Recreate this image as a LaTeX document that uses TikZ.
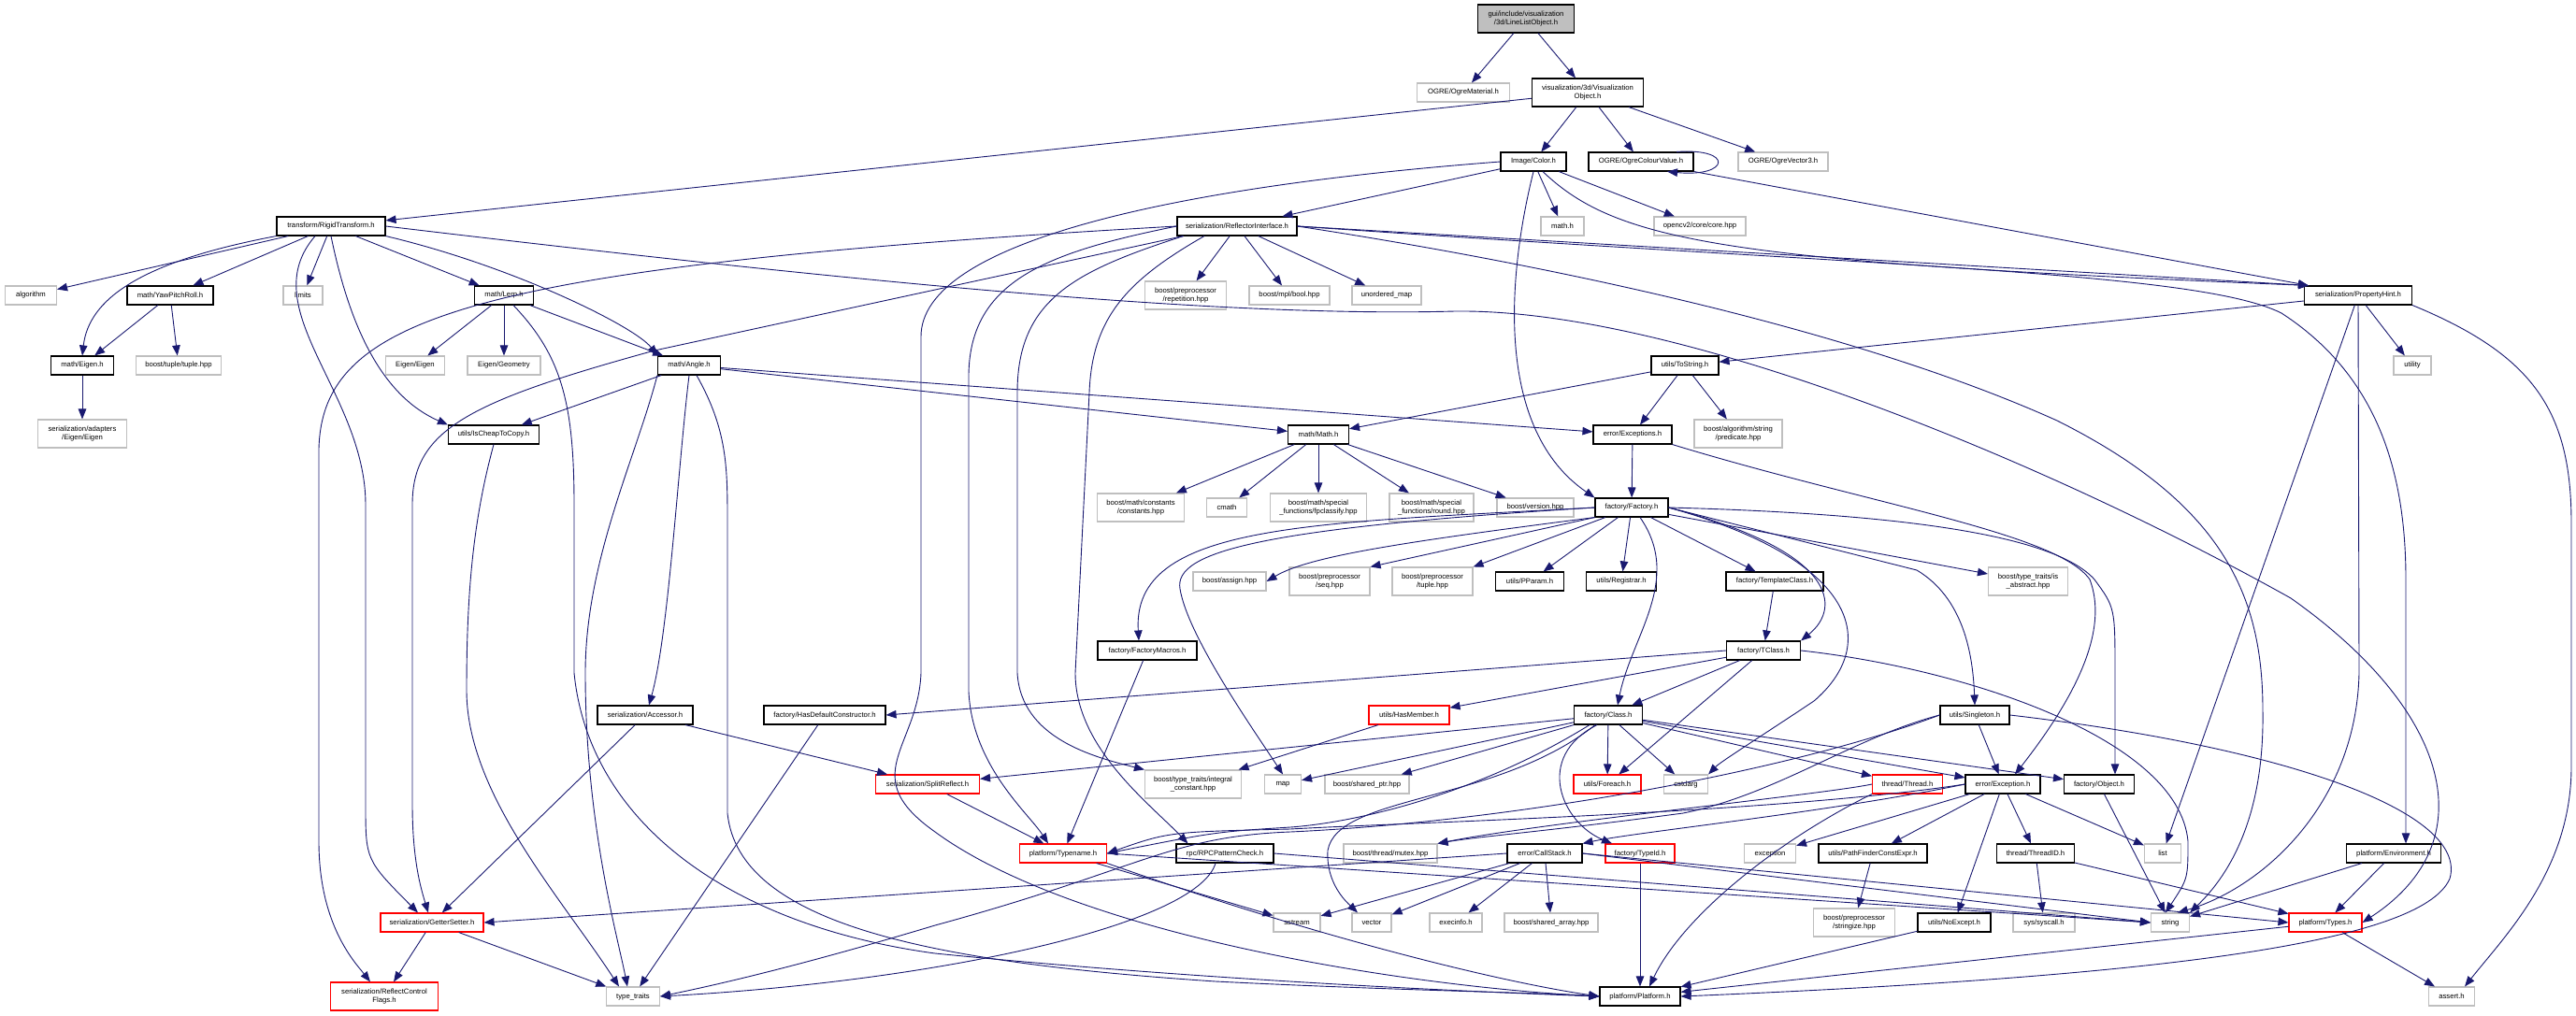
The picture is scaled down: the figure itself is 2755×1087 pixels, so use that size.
\documentclass[tikz,border=0pt]{standalone}
\usepackage{fontspec}
\newfontfamily\dxfont{Liberation Sans}
\usetikzlibrary{arrows.meta}
\definecolor{navy}{HTML}{191970}
\definecolor{extgray}{HTML}{BFBFBF}
\tikzset{
  box/.style={rectangle, draw, inner sep=1pt, minimum height=20pt, align=center, font=\dxfont\fontsize{7.7}{9.3}\selectfont},
  doc/.style={box, draw=black, line width=1.1pt},
  ext/.style={box, draw=extgray, line width=1.1pt},
  trunc/.style={box, draw=red, line width=1.1pt},
  root/.style={doc, fill=extgray},
  tall/.style={minimum height=30pt},
  incl/.style={draw=navy, line width=0.9pt, -{Triangle[length=11pt,width=8.5pt]}}
}
\begin{document}
\begin{tikzpicture}[x=1pt,y=1pt]
\useasboundingbox (0,0) rectangle (2755,-1087);
\node[root, tall, minimum width=103pt] (lineList) at (1632,-20) {gui/include/visualization\\/3d/LineListObject.h};
\node[ext, minimum width=99pt] (ogreMat) at (1565,-99) {OGRE/OgreMaterial.h};
\node[doc, tall, minimum width=119pt] (visObj) at (1698,-99) {visualization/3d/Visualization\\Object.h};
\node[doc, minimum width=70pt] (color) at (1640,-173) {Image/Color.h};
\node[doc, minimum width=112pt] (ogreCol) at (1755,-173) {OGRE/OgreColourValue.h};
\node[ext, minimum width=96pt] (ogreVec) at (1907,-173) {OGRE/OgreVector3.h};
\node[doc, minimum width=116pt] (rigid) at (354,-242) {transform/RigidTransform.h};
\node[doc, minimum width=128pt] (reflIf) at (1323,-242) {serialization/ReflectorInterface.h};
\node[ext, minimum width=46pt] (mathh) at (1671,-242) {math.h};
\node[ext, minimum width=98pt] (cvCore) at (1818,-242) {opencv2/core/core.hpp};
\node[ext, minimum width=55pt] (algo) at (33,-316) {algorithm};
\node[doc, minimum width=92pt] (ypr) at (182,-316) {math/YawPitchRoll.h};
\node[ext, minimum width=42pt] (limits) at (324,-316) {limits};
\node[doc, minimum width=63pt] (lerp) at (539,-316) {math/Lerp.h};
\node[ext, tall, minimum width=87pt] (repet) at (1268,-316) {boost/preprocessor\\/repetition.hpp};
\node[ext, minimum width=86pt] (mplBool) at (1379,-316) {boost/mpl/bool.hpp};
\node[ext, minimum width=74pt] (uMap) at (1483,-316) {unordered\_map};
\node[doc, minimum width=115pt] (propHint) at (2522,-316) {serialization/PropertyHint.h};
\node[doc, minimum width=67pt] (eigenH) at (88,-391) {math/Eigen.h};
\node[ext, minimum width=91pt] (tupleHpp) at (191,-391) {boost/tuple/tuple.hpp};
\node[ext, minimum width=63pt] (eigenEigen) at (444,-391) {Eigen/Eigen};
\node[ext, minimum width=78pt] (eigenGeo) at (539,-391) {Eigen/Geometry};
\node[doc, minimum width=67pt] (angle) at (737,-391) {math/Angle.h};
\node[doc, minimum width=72pt] (toStr) at (1802,-391) {utils/ToString.h};
\node[ext, minimum width=40pt] (utility) at (2580,-391) {utility};
\node[ext, tall, minimum width=95pt] (adEigen) at (88,-464) {serialization/adapters\\/Eigen/Eigen};
\node[doc, minimum width=97pt] (cheap) at (528,-465) {utils/IsCheapToCopy.h};
\node[doc, minimum width=65pt] (mathMath) at (1410,-465) {math/Math.h};
\node[doc, minimum width=84pt] (excs) at (1746,-465) {error/Exceptions.h};
\node[ext, tall, minimum width=94pt] (predic) at (1859,-464) {boost/algorithm/string\\/predicate.hpp};
\node[ext, tall, minimum width=93pt] (consts) at (1220,-543) {boost/math/constants\\/constants.hpp};
\node[ext, minimum width=43pt] (cmath) at (1312,-543) {cmath};
\node[ext, tall, minimum width=103pt] (fpclass) at (1410,-543) {boost/math/special\\\_functions/fpclassify.hpp};
\node[ext, tall, minimum width=90pt] (roundH) at (1531,-543) {boost/math/special\\\_functions/round.hpp};
\node[ext, minimum width=82pt] (version) at (1642,-543) {boost/version.hpp};
\node[doc, minimum width=78pt] (factory) at (1745,-543) {factory/Factory.h};
\node[ext, minimum width=78pt] (assign) at (1315,-622) {boost/assign.hpp};
\node[ext, tall, minimum width=86pt] (seqH) at (1422,-622) {boost/preprocessor\\/seq.hpp};
\node[ext, tall, minimum width=86pt] (tupleP) at (1532,-622) {boost/preprocessor\\/tuple.hpp};
\node[doc, minimum width=73pt] (pparam) at (1636,-622) {utils/PParam.h};
\node[doc, minimum width=75pt] (registrar) at (1734,-622) {utils/Registrar.h};
\node[doc, minimum width=104pt] (tmplCls) at (1898,-622) {factory/TemplateClass.h};
\node[ext, tall, minimum width=85pt] (isAbs) at (2169,-622) {boost/type\_traits/is\\\_abstract.hpp};
\node[doc, minimum width=106pt] (facMacros) at (1227,-696) {factory/FactoryMacros.h};
\node[doc, minimum width=79pt] (tclass) at (1886,-696) {factory/TClass.h};
\node[doc, minimum width=102pt] (accessor) at (690,-765) {serialization/Accessor.h};
\node[doc, minimum width=130pt] (hasDef) at (882,-765) {factory/HasDefaultConstructor.h};
\node[trunc, minimum width=86pt] (hasMem) at (1507,-765) {utils/HasMember.h};
\node[doc, minimum width=73pt] (classH) at (1720,-765) {factory/Class.h};
\node[doc, minimum width=74pt] (singleton) at (2112,-765) {utils/Singleton.h};
\node[trunc, minimum width=111pt] (splitRefl) at (992,-839) {serialization/SplitReflect.h};
\node[ext, tall, minimum width=103pt] (integral) at (1276,-839) {boost/type\_traits/integral\\\_constant.hpp};
\node[ext, minimum width=39pt] (mapH) at (1372,-839) {map};
\node[ext, minimum width=90pt] (sharedPtr) at (1462,-839) {boost/shared\_ptr.hpp};
\node[trunc, minimum width=72pt] (foreach) at (1719,-839) {utils/Foreach.h};
\node[ext, minimum width=47pt] (cstdarg) at (1803,-839) {cstdarg};
\node[trunc, minimum width=75pt] (thread) at (2040,-839) {thread/Thread.h};
\node[doc, minimum width=80pt] (exception) at (2142,-839) {error/Exception.h};
\node[doc, minimum width=75pt] (object) at (2245,-839) {factory/Object.h};
\node[trunc, minimum width=93pt] (typename) at (1137,-913) {platform/Typename.h};
\node[doc, minimum width=104pt] (rpc) at (1310,-913) {rpc/RPCPatternCheck.h};
\node[ext, minimum width=100pt] (mutex) at (1487,-913) {boost/thread/mutex.hpp};
\node[doc, minimum width=80pt] (callStack) at (1652,-913) {error/CallStack.h};
\node[trunc, minimum width=74pt] (typeId) at (1754,-913) {factory/TypeId.h};
\node[ext, minimum width=55pt] (stdExc) at (1893,-913) {exception};
\node[doc, minimum width=116pt] (pathFinder) at (2003,-913) {utils/PathFinderConstExpr.h};
\node[doc, minimum width=83pt] (threadId) at (2177,-913) {thread/ThreadID.h};
\node[ext, minimum width=39pt] (list) at (2313,-913) {list};
\node[doc, minimum width=101pt] (environ) at (2560,-913) {platform/Environment.h};
\node[trunc, minimum width=110pt] (getSet) at (462,-987) {serialization/GetterSetter.h};
\node[ext, minimum width=50pt] (sstream) at (1387,-987) {sstream};
\node[ext, minimum width=42pt] (vector) at (1467,-987) {vector};
\node[ext, minimum width=56pt] (execinfo) at (1557,-987) {execinfo.h};
\node[ext, minimum width=100pt] (sharedArr) at (1659,-987) {boost/shared\_array.hpp};
\node[ext, tall, minimum width=87pt] (stringize) at (1983,-987) {boost/preprocessor\\/stringize.hpp};
\node[doc, minimum width=78pt] (noExcept) at (2090,-987) {utils/NoExcept.h};
\node[ext, minimum width=66pt] (syscall) at (2186,-987) {sys/syscall.h};
\node[ext, minimum width=41pt] (string) at (2321,-987) {string};
\node[trunc, minimum width=78pt] (types) at (2487,-987) {platform/Types.h};
\node[trunc, tall, minimum width=115pt] (reflFlags) at (411,-1066) {serialization/ReflectControl\\Flags.h};
\node[ext, minimum width=57pt] (typeTraits) at (677,-1066) {type\_traits};
\node[doc, minimum width=86pt] (platform) at (1754,-1066) {platform/Platform.h};
\node[ext, minimum width=49pt] (assertH) at (2622,-1066) {assert.h};
\draw[incl] (lineList) -- (ogreMat);
\draw[incl] (lineList) -- (visObj);
\draw[incl] (visObj) -- (rigid);
\draw[incl] (visObj) -- (color);
\draw[incl] (visObj) -- (ogreCol);
\draw[incl] (visObj) -- (ogreVec);
\draw[incl] (color) -- (reflIf);
\draw[incl] (color) -- (mathh);
\draw[incl] (color) -- (cvCore);
\draw[incl] ([xshift=10pt]color.south) .. controls (1730,-260) and (1850,-280) .. ([xshift=5pt]propHint.north west);
\draw[incl] (color.south) .. controls (1611,-300) and (1600,-460) .. (factory.north west);
\draw[incl] (color.west) .. controls (1250,-200) and (985,-260) .. (985,-360) -- (985,-720) .. controls (982,-800) and (915,-830) .. (1000,-890) .. controls (1150,-1000) and (1500,-1055) .. (platform.west);
\draw[incl] ([xshift=38pt]ogreCol.north) .. controls (1855,-158) and (1850,-190) .. ([xshift=28pt]ogreCol.south);
\draw[incl] (ogreCol.south east) -- ([xshift=5pt]propHint.north west);
\draw[incl] (rigid) -- (algo);
\draw[incl] (rigid) -- (ypr);
\draw[incl] (rigid) -- (limits);
\draw[incl] (rigid) -- (lerp);
\draw[incl] (rigid.south west) .. controls (150,-280) and (95,-320) .. (eigenH.north);
\draw[incl] (rigid.south east) .. controls (550,-285) and (680,-350) .. (angle.north west);
\draw[incl] (rigid.south) .. controls (370,-330) and (400,-420) .. (cheap.north west);
\draw[incl] ([xshift=-17pt]rigid.south) .. controls (270,-330) and (391,-420) .. (391,-540) -- (391,-860) .. controls (391,-920) .. ([xshift=-15pt]getSet.north);
\draw[incl] (rigid.east) .. controls (900,-300) and (1300,-340) .. (1556,-333) .. controls (1800,-330) and (2200,-500) .. (2450,-640) .. controls (2620,-760) and (2660,-900) .. (types.east);
\draw[incl] (reflIf) -- (repet);
\draw[incl] (reflIf) -- (mplBool);
\draw[incl] (reflIf) -- (uMap);
\draw[incl] (reflIf.east) -- ([xshift=5pt]propHint.north west);
\draw[incl] (reflIf.east) .. controls (2000,-285) and (2350,-290) .. (2440,-335) .. controls (2540,-400) and (2573,-500) .. (2573,-620) -- ([xshift=13pt]environ.north);
\draw[incl] (reflIf.east) .. controls (1700,-290) and (2000,-360) .. (2200,-450) .. controls (2380,-540) and (2420,-640) .. (2420,-760) .. controls (2422,-880) and (2380,-940) .. (string.north east);
\draw[incl] (reflIf.west) .. controls (500,-285) and (345,-340) .. (341,-480) -- (341,-900) .. controls (341,-990) and (380,-1030) .. ([xshift=-15pt]reflFlags.north);
\draw[incl] ([xshift=7pt]reflIf.south west) -- (700,-375) .. controls (500,-430) and (441,-460) .. (441,-540) -- (441,-860) .. controls (441,-920) and (450,-950) .. ([xshift=-4pt]getSet.north);
\draw[incl] (reflIf.west) .. controls (1120,-270) and (1038,-300) .. (1036,-400) -- (1036,-740) .. controls (1040,-820) and (1100,-870) .. ([xshift=-16pt]typename.north);
\draw[incl] ([xshift=7pt]reflIf.south west) .. controls (1150,-290) and (1088,-320) .. (1088,-420) -- (1088,-720) .. controls (1092,-790) and (1170,-810) .. (integral.north west);
\draw[incl] ([xshift=-35pt]reflIf.south) .. controls (1205,-300) and (1168,-340) .. (1165,-420) -- (1150,-720) .. controls (1150,-800) and (1230,-860) .. ([xshift=13pt]rpc.north west);
\draw[incl] (lerp) -- (eigenEigen);
\draw[incl] (lerp) -- (eigenGeo);
\draw[incl] (lerp) -- (angle);
\draw[incl] ([xshift=10pt]lerp.south) .. controls (600,-380) and (614,-430) .. (614,-540) -- (614,-720) .. controls (630,-880) and (780,-990) .. (1000,-1020) .. controls (1300,-1050) and (1600,-1062) .. (platform.west);
\draw[incl] (ypr) -- (eigenH);
\draw[incl] (ypr) -- (tupleHpp);
\draw[incl] (eigenH) -- (adEigen);
\draw[incl] (angle) -- (cheap);
\draw[incl] (angle) -- (mathMath);
\draw[incl] (angle) -- (excs);
\draw[incl] (angle.south west) .. controls (680,-490) and (626,-600) .. (626,-720) .. controls (626,-880) and (660,-1000) .. ([xshift=-6pt]typeTraits.north);
\draw[incl] (angle.south) .. controls (725,-500) and (715,-680) .. ([xshift=4pt]accessor.north);
\draw[incl] ([xshift=8pt]angle.south) .. controls (778,-460) and (778,-500) .. (778,-560) -- (778,-870) .. controls (790,-990) and (1000,-1030) .. (1300,-1050) .. controls (1500,-1060) and (1650,-1062) .. (platform.west);
\draw[incl] (cheap.south) .. controls (505,-560) and (499,-640) .. (499,-740) .. controls (500,-850) and (600,-960) .. ([xshift=-15pt]typeTraits.north);
\draw[incl] (propHint) -- (toStr);
\draw[incl] (propHint) -- (list);
\draw[incl] (propHint.south) -- (2523,-720) .. controls (2520,-860) and (2420,-950) .. ([xshift=8pt]string.north);
\draw[incl] (propHint) -- (utility);
\draw[incl] (propHint.south east) .. controls (2710,-380) and (2750,-440) .. (2750,-560) -- (2750,-820) .. controls (2750,-930) and (2680,-1000) .. ([xshift=14pt]assertH.north);
\draw[incl] (toStr) -- (mathMath);
\draw[incl] (toStr) -- (excs);
\draw[incl] (toStr) -- (predic);
\draw[incl] (mathMath) -- (consts);
\draw[incl] (mathMath) -- (cmath);
\draw[incl] (mathMath) -- (fpclass);
\draw[incl] (mathMath) -- (roundH);
\draw[incl] (mathMath) -- (version);
\draw[incl] (excs) -- (factory);
\draw[incl] (excs.south east) .. controls (2000,-540) and (2200,-570) .. (2235,-620) .. controls (2250,-660) and (2240,-720) .. ([xshift=13pt]exception.north);
\draw[incl] (factory) -- (isAbs);
\draw[incl] (factory) -- (tmplCls);
\draw[incl] (factory) -- (registrar);
\draw[incl] (factory) -- (pparam);
\draw[incl] (factory) -- (tupleP.north east);
\draw[incl] (factory.south west) -- (seqH.north east);
\draw[incl] (factory.south west) .. controls (1500,-580) and (1400,-595) .. (assign.east);
\draw[incl] (factory.west) .. controls (1400,-560) and (1210,-560) .. ([xshift=-9pt]facMacros.north);
\draw[incl] (factory.west) .. controls (1350,-565) and (1255,-590) .. (1262,-630) .. controls (1270,-680) and (1340,-780) .. (mapH.north);
\draw[incl] ([xshift=9pt]factory.south) .. controls (1800,-620) and (1745,-680) .. ([xshift=10pt]classH.north);
\draw[incl] (factory.east) .. controls (1990,-600) and (2010,-690) .. (1940,-750) .. controls (1880,-790) and (1840,-815) .. (cstdarg.north east);
\draw[incl] (factory.east) .. controls (1965,-590) and (1970,-650) .. (tclass.north east);
\draw[incl] (factory.east) .. controls (2050,-550) and (2200,-575) .. (2240,-620) .. controls (2262,-650) .. (2262,-720) -- ([xshift=17pt]object.north);
\draw[incl] (factory.east) -- (2050,-610) .. controls (2100,-640) and (2110,-700) .. (singleton.north);
\draw[incl] (tmplCls) -- (tclass);
\draw[incl] (facMacros) -- (typename);
\draw[incl] (tclass.west) -- (hasDef.east);
\draw[incl] (tclass) -- (hasMem);
\draw[incl] (tclass) -- (classH);
\draw[incl] (tclass) -- (foreach);
\draw[incl] (tclass.east) .. controls (2100,-715) and (2330,-790) .. (2340,-900) .. controls (2340,-940) .. ([xshift=-5pt]string.north);
\draw[incl] (accessor) -- (getSet);
\draw[incl] (accessor) -- (splitRefl);
\draw[incl] (hasDef) -- (typeTraits);
\draw[incl] (splitRefl) -- (typename);
\draw[incl] (hasMem) -- (integral);
\draw[incl] (classH) -- (splitRefl);
\draw[incl] (classH) -- (mapH);
\draw[incl] (classH) -- (sharedPtr);
\draw[incl] (classH) -- (foreach);
\draw[incl] (classH) -- (cstdarg);
\draw[incl] (classH) -- (thread);
\draw[incl] (classH) -- (exception);
\draw[incl] (classH) -- (object);
\draw[incl] ([xshift=-12pt]classH.south) .. controls (1640,-810) and (1670,-880) .. ([xshift=-30pt]typeId.north);
\draw[incl] ([xshift=-14pt]classH.south) .. controls (1600,-860) and (1430,-850) .. (1420,-910) .. controls (1418,-945) and (1440,-965) .. ([xshift=-15pt]vector.north);
\draw[incl] ([xshift=-20pt]classH.south) .. controls (1580,-850) and (1450,-880) .. (1380,-885) .. controls (1300,-890) .. (typename.east);
\draw[incl] (singleton.west) .. controls (1980,-790) and (1900,-850) .. (1800,-870) .. controls (1650,-890) and (1580,-895) .. (mutex.north east);
\draw[incl] (singleton.west) .. controls (1900,-830) and (1600,-880) .. (1380,-890) .. controls (1250,-895) and (1220,-930) .. (1000,-990) .. controls (850,-1035) and (760,-1055) .. (typeTraits.east);
\draw[incl] (singleton) -- (exception);
\draw[incl] (singleton.east) .. controls (2450,-800) and (2640,-870) .. (2620,-940) .. controls (2590,-1010) and (2300,-1045) .. (platform.east);
\draw[incl] (exception.west) .. controls (1950,-870) and (1750,-890) .. (callStack.north east);
\draw[incl] (exception) -- (stdExc);
\draw[incl] (exception) -- (pathFinder);
\draw[incl] (exception) -- (threadId);
\draw[incl] (exception) -- (noExcept);
\draw[incl] (exception) -- (list);
\draw[incl] (exception.west) .. controls (1900,-870) and (1500,-880) .. (1380,-887) .. controls (1250,-890) .. (typename.east);
\draw[incl] (thread.south west) .. controls (1900,-900) and (1800,-980) .. ([xshift=10pt]platform.north);
\draw[incl] (thread.west) .. controls (1950,-850) and (1650,-880) .. (mutex.north east);
\draw[incl] (callStack.west) -- (getSet.east);
\draw[incl] (callStack) -- (sstream);
\draw[incl] (callStack) -- (vector);
\draw[incl] (callStack) -- (execinfo);
\draw[incl] (callStack) -- (sharedArr);
\draw[incl] (callStack.east) -- (string.west);
\draw[incl] (callStack.east) -- (types.west);
\draw[incl] (typeId) -- (platform);
\draw[incl] (pathFinder) -- (stringize);
\draw[incl] (threadId) -- (syscall);
\draw[incl] (threadId) -- (types);
\draw[incl] (noExcept) -- (platform);
\draw[incl] (types) -- (platform);
\draw[incl] (types) -- (assertH);
\draw[incl] (environ) -- (string);
\draw[incl] (environ) -- (types);
\draw[incl] (object) -- (string);
\draw[incl] ([xshift=-10pt]rpc.south) .. controls (1280,-990) and (1000,-1050) .. (typeTraits.east);
\draw[incl] (rpc.east) -- (string.west);
\draw[incl] (typename) -- (sstream);
\draw[incl] (typename.south east) .. controls (1400,-1000) and (1600,-1050) .. (platform.west);
\draw[incl] (typename.east) -- (string.west);
\draw[incl] (getSet) -- (reflFlags);
\draw[incl] (getSet) -- (typeTraits);
\end{tikzpicture}
\end{document}
